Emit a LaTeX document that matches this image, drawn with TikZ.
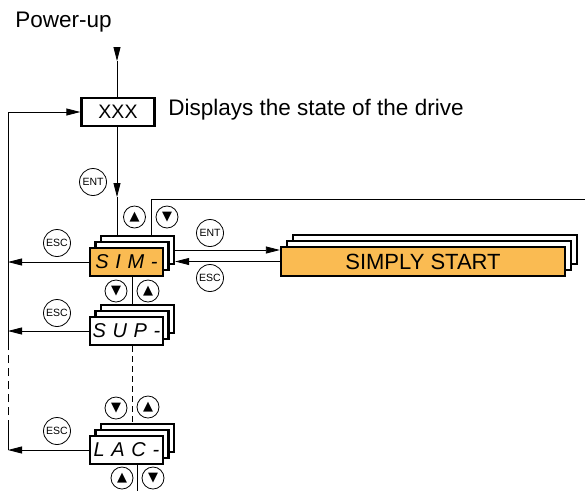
\documentclass[tikz,border=0pt]{standalone}
\usepackage{fontspec}
\setmainfont{Liberation Sans}
\newfontfamily\symfont{DejaVu Sans}
\usetikzlibrary{arrows.meta,positioning,calc}
\definecolor{menuorange}{RGB}{250,187,82}

\begin{document}
\begin{tikzpicture}[x=1pt,y=-1pt,line width=0.8pt,
  tip/.style={-{Triangle[length=14pt,width=7pt]}},
  box/.style={draw,line width=2.3pt,minimum width=73pt,minimum height=28pt,inner sep=0pt},
  menu/.style={box,fill=white,font=\fontsize{20}{20}\selectfont\itshape},
  current/.style={menu,fill=menuorange},
  btn/.style={circle,draw,line width=0.8pt,minimum size=27pt,inner sep=0pt,font=\fontsize{10.5}{10.5}\selectfont},
  key/.style={circle,draw,line width=0.8pt,minimum size=22pt,inner sep=0pt,font=\symfont\fontsize{13}{13}\selectfont},
  label/.style={font=\fontsize{22.5}{22.5}\selectfont,inner sep=0pt}]
  \useasboundingbox (0,0) rectangle (585,491);

  % texts
  \node[label,anchor=base west] (pwr) at (15,27) {Power-up};
  \node[box,font=\fontsize{19.5}{19.5}\selectfont] (xxx) at (118,112) {XXX};
  \node[label,anchor=base west] (disp) at (168,115) {Displays the state of the drive};

  % menu stacks, back to front
  \foreach \y/\n in {262/sim,331/sup,450/lac} {
    \node[menu] (\n B) at (137.5,\y-12) {};
    \node[menu] (\n M) at (132,\y-6) {};
  }
  \node[current] (sim) at (126.5,262) {S\,\,I\,\,M\,\,-};
  \node[menu]    (sup) at (126.5,331) {S\,\,U\,\,P\,\,-};
  \node[menu]    (lac) at (126.5,450) {L\,\,A\,\,C\,\,-};

  \node[box,fill=white,minimum width=284pt,minimum height=29pt] (ssB) at (435,249.5) {};
  \node[box,fill=white,minimum width=284pt,minimum height=29pt] (ssM) at (429,255.5) {};
  \node[box,fill=menuorange,minimum width=284pt,minimum height=29pt,
        font=\fontsize{22}{22}\selectfont] (ss) at (423,261.5) {SIMPLY START};

  % keys
  \node[btn] (ent1) at (93,182) {ENT};
  \node[key] (up1) at (134.5,217) {▲};
  \node[key] (dn1) at (167,217) {▼};
  \node[btn] (esc1) at (57,243) {ESC};
  \node[btn] (ent2) at (210,233) {ENT};
  \node[btn] (esc2) at (210,278) {ESC};
  \node[key] (dn2) at (116,291) {▼};
  \node[key] (up2) at (148,291) {▲};
  \node[btn] (esc3) at (57,313) {ESC};
  \node[key] (dn3) at (116,408) {▼};
  \node[key] (up3) at (148,407) {▲};
  \node[btn] (esc4) at (57,431) {ESC};
  \node[key] (up4) at (122,478) {▲};
  \node[key] (dn4) at (153,478) {▼};

  % free ends
  \coordinate (pwrA) at (117,47);
  \coordinate (pwrT) at (117,61);
  \coordinate (entT) at (117,197);
  \coordinate (topR) at (585,199);
  \coordinate (fb1) at (8,343);
  \coordinate (fb2) at (8,428);
  \coordinate (fb3) at (8,450);
  \coordinate (lacE) at (137,491);

  % connectors
  \draw[tip] (pwrA) -- (pwrT);
  \draw (pwrT) -- (pwrT |- xxx.north);
  \draw[tip] (xxx.south -| entT) -- (entT);
  \draw (entT) -- (entT |- simB.north);
  \draw ([xshift=13.5pt]simB.north) |- (topR);
  \draw[tip] (simB.east) -- (ss.west |- simB.east);
  \draw[tip] (ss.west) -- (ss.west -| simB.east);
  \draw ([xshift=5.5pt]sim.south) -- ([xshift=5.5pt]sim.south |- supB.north);
  \draw[dashed,dash pattern=on 6pt off 4pt] ([xshift=5.5pt]sup.south) -- ([xshift=5.5pt]sup.south |- lacB.north);
  \draw (lacE |- lac.south) -- (lacE);
  \draw[tip] (sim.west) -- (sim.west -| fb3);
  \draw[tip] (sup.west) -- (sup.west -| fb3);
  \draw[tip] (lac.west) -- (fb3);
  \draw (fb3) -- (fb2);
  \draw[dashed,dash pattern=on 8pt off 5pt] (fb2) -- (fb1);
  \draw[tip] (fb1) |- (xxx.west);
\end{tikzpicture}
\end{document}
